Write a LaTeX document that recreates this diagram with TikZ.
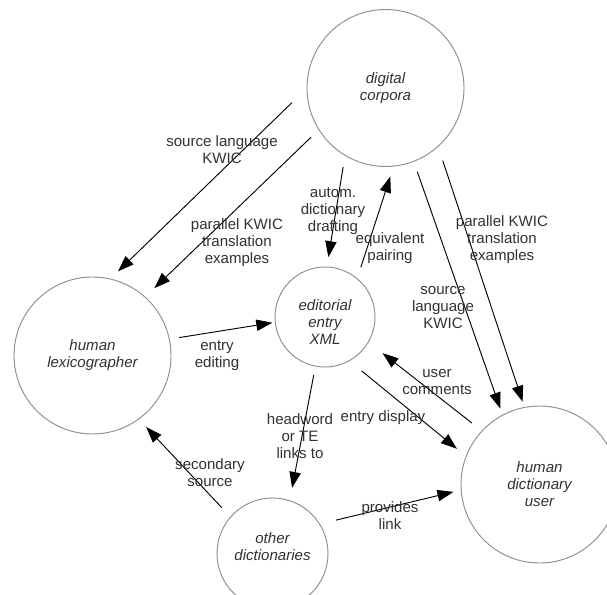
\documentclass[tikz,border=0pt]{standalone}
\usepackage{fontspec}
\setmainfont{Liberation Sans}
\usepackage{tikz}
\usetikzlibrary{
  arrows.meta
}
\usepackage{xcolor}
\definecolor{inkgray}{RGB}{48,48,58}
\definecolor{ringgray}{RGB}{140,140,140}

\begin{document}
\begin{tikzpicture}[x=0.75pt, y=-0.75pt,
  every node/.style={font=\fontsize{11.3}{12.75}\selectfont, text=inkgray, align=center, inner sep=0pt},
  agenttext/.style={font=\fontsize{11.3}{12.75}\selectfont\itshape},
  agent/.style={circle, draw=ringgray, line width=0.7pt, outer sep=0pt, minimum size=117.75pt, agenttext},
  flow/.style={-{Triangle[length=12pt, width=8.5pt]}, line width=0.7pt, black}]
\useasboundingbox (0,0) rectangle (607,595);

\node (corpora) [agent] at (385.5,88) {digital\\corpora};
\node (lexico) [agent] at (92.5,355.5) {human\\lexicographer};
\node (entry) [agent, minimum size=75pt,
  label={[agenttext, yshift=-4pt]center:{editorial\\entry\\XML}}] at (325,317) {};
\node (user) [agent] at (539.5,484.5) {human\\dictionary\\user};
\node (others) [agent, minimum size=83.25pt,
  label={[agenttext, yshift=5.5pt]center:{other\\dictionaries}}] at (272.5,553.5) {};

\draw[flow, shorten <=15.75pt, shorten >=8.25pt] (corpora.180) -- (lexico.77);
\draw[flow, shorten <=8.25pt, shorten >=9.75pt] (corpora.212) -- (lexico.48);
\draw[flow, shorten <=9pt, shorten >=7.5pt] (corpora.239) -- (entry.88);
\draw[flow, shorten <=9pt, shorten >=8.25pt] (entry.50) -- (corpora.276);
\draw[flow, shorten <=8.25pt, shorten >=5.25pt] (corpora.291) -- (user.118);
\draw[flow, shorten <=11.25pt, shorten >=4.5pt] (corpora.312) -- (user.101);
\draw[flow, shorten <=7.5pt, shorten >=2.25pt] (lexico.12) -- (entry.186);
\draw[flow, shorten <=6.75pt, shorten >=9.75pt] (entry.259) -- (others.72);
\draw[flow, shorten <=12pt, shorten >=9pt] (entry.299) -- (user.159);
\draw[flow, shorten <=9.75pt, shorten >=13.5pt] (user.137) -- (entry.330);
\draw[flow, shorten <=9.75pt, shorten >=8.25pt] (others.139) -- (lexico.306);
\draw[flow, shorten <=12.75pt, shorten >=6pt] (others.32) -- (user.184);

\node (srcleft) at (222,150) {source language\\KWIC};
\node (parleft) at (237,243) {parallel KWIC\\translation\\examples};
\node (drafting) at (333,211) {autom.\\dictionary\\drafting};
\node (pairing) at (390,248) {equivalent\\pairing};
\node (parright) at (502,240) {parallel KWIC\\translation\\examples};
\node (srcright) at (443,308) {source\\language\\KWIC};
\node (editing) at (217,356) {entry\\editing};
\node (comments) at (437,382) {user\\comments};
\node (display) at (383,418) {entry display};
\node (linksto) at (300,436) {headword\\or TE\\links to};
\node (secondary) at (210,473) {secondary\\source};
\node (provides) at (390,516) {provides\\link};
\end{tikzpicture}
\end{document}
